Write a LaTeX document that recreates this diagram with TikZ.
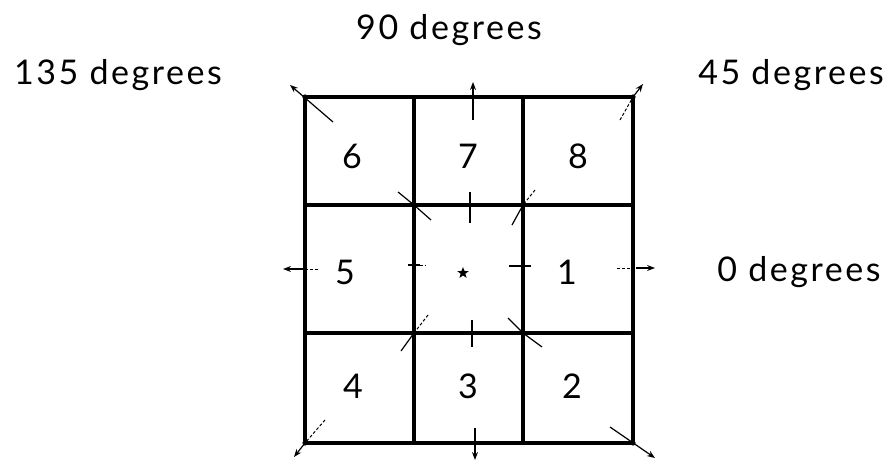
\documentclass[tikz,border=0pt]{standalone}
\usepackage{fontspec}
\setmainfont{Lato}[LetterSpace=7.5]
\usetikzlibrary{arrows.meta,shapes.geometric}
\begin{document}
\begin{tikzpicture}[x=1pt,y=-1pt,
  gridline/.style={line width=3.2pt, line cap=round, line join=miter},
  dirarrow/.style={line width=1.2pt, -{Stealth[length=8pt,width=6pt]}},
  dashpart/.style={line width=1pt, dash pattern=on 3pt off 2pt},
  tickmark/.style={line width=1.2pt},
  lbl/.style={font=\fontsize{34}{34}\selectfont, inner sep=0pt, anchor=center},
  num/.style={font=\fontsize{34}{34}\selectfont, inner sep=0pt, anchor=center}]
\useasboundingbox (0,0) rectangle (893,462);
% grid coordinates
\coordinate (g00) at (305,97);
\coordinate (g33) at (633,443);
\coordinate (g11) at (414,205);
\coordinate (g21) at (523,205);
\coordinate (g12) at (414,333);
\coordinate (g22) at (523,333);
% grid
\draw[gridline] (g00) rectangle (g33);
\draw[gridline] (414,97) -- (414,443);
\draw[gridline] (523,97) -- (523,443);
\draw[gridline] (305,205) -- (633,205);
\draw[gridline] (305,333) -- (633,333);
% corner blobs
\foreach \p in {(305,97),(633,97),(305,443),(633,443),(414,205),(523,205),(414,333),(523,333)}
  \fill \p circle (2.6pt);
% labels
\node[lbl] (t90) at (449,30) {90 degrees};
\node[lbl] (t135) at (118,75) {135 degrees};
\node[lbl] (t45) at (791,75) {45 degrees};
\node[lbl] (t0) at (799,272) {0 degrees};
% cell numbers
\node[num] (c6) at (352,156) {6};
\node[num] (c7) at (468,156) {7};
\node[num] (c8) at (578,156) {8};
\node[num] (c5) at (345,272) {5};
\node[star, star points=5, star point ratio=2.4, fill=black, inner sep=0pt, minimum size=12pt] (cs) at (463,273) {};
\node[num] (c1) at (567,272) {1};
\node[num] (c4) at (353,386) {4};
\node[num] (c3) at (468,386) {3};
\node[num] (c2) at (572,386) {2};
% direction arrows
\coordinate (a135s) at (333,122); \coordinate (a135e) at (290,85);
\coordinate (a45s) at (620,120);  \coordinate (a45m) at (633,97); \coordinate (a45e) at (643,84);
\coordinate (a90s) at (473,120);  \coordinate (a90e) at (473,82);
\coordinate (a0s) at (617,268);   \coordinate (a0m) at (636,268); \coordinate (a0e) at (655,268);
\coordinate (a180s) at (318,269); \coordinate (a180m) at (305,269); \coordinate (a180e) at (283,269);
\coordinate (a225s) at (325,420); \coordinate (a225m) at (305,443); \coordinate (a225e) at (294,457);
\coordinate (a270s) at (475,428); \coordinate (a270e) at (475,460);
\coordinate (a315s) at (610,427); \coordinate (a315e) at (655,458);
\draw[dirarrow] (a135s) -- (a135e);
\draw[dashpart] (a45s) -- (a45m);
\draw[dirarrow] (a45m) -- (a45e);
\draw[dirarrow] (a90s) -- (a90e);
\draw[dashpart] (a0s) -- (a0m);
\draw[dirarrow] (a0m) -- (a0e);
\draw[dashpart] (a180s) -- (a180m);
\draw[dirarrow] (a180m) -- (a180e);
\draw[dashpart] (a225s) -- (a225m);
\draw[dirarrow] (a225m) -- (a225e);
\draw[dirarrow] (a270s) -- (a270e);
\draw[dirarrow] (a315s) -- (a315e);
% inner corner marks
\draw[tickmark] (398,192) -- (g11) -- (431,220);
\draw[dashpart] (535,190) -- (g21);
\draw[tickmark] (g21) -- (512,225);
\draw[dashpart] (428,315) -- (g12);
\draw[tickmark] (g12) -- (401,351);
\draw[tickmark] (508,318) -- (g22) -- (542,347);
% edge midpoint ticks
\draw[tickmark] (470,192) -- (470,223);
\draw[tickmark] (472,320) -- (472,347);
\draw[tickmark] (408,265) -- (420,265);
\draw[dashpart] (420,265) -- (426,265);
\draw[tickmark] (509,266) -- (531,266);
\draw[tickmark] (633,261) -- (633,276);
\end{tikzpicture}
\end{document}
